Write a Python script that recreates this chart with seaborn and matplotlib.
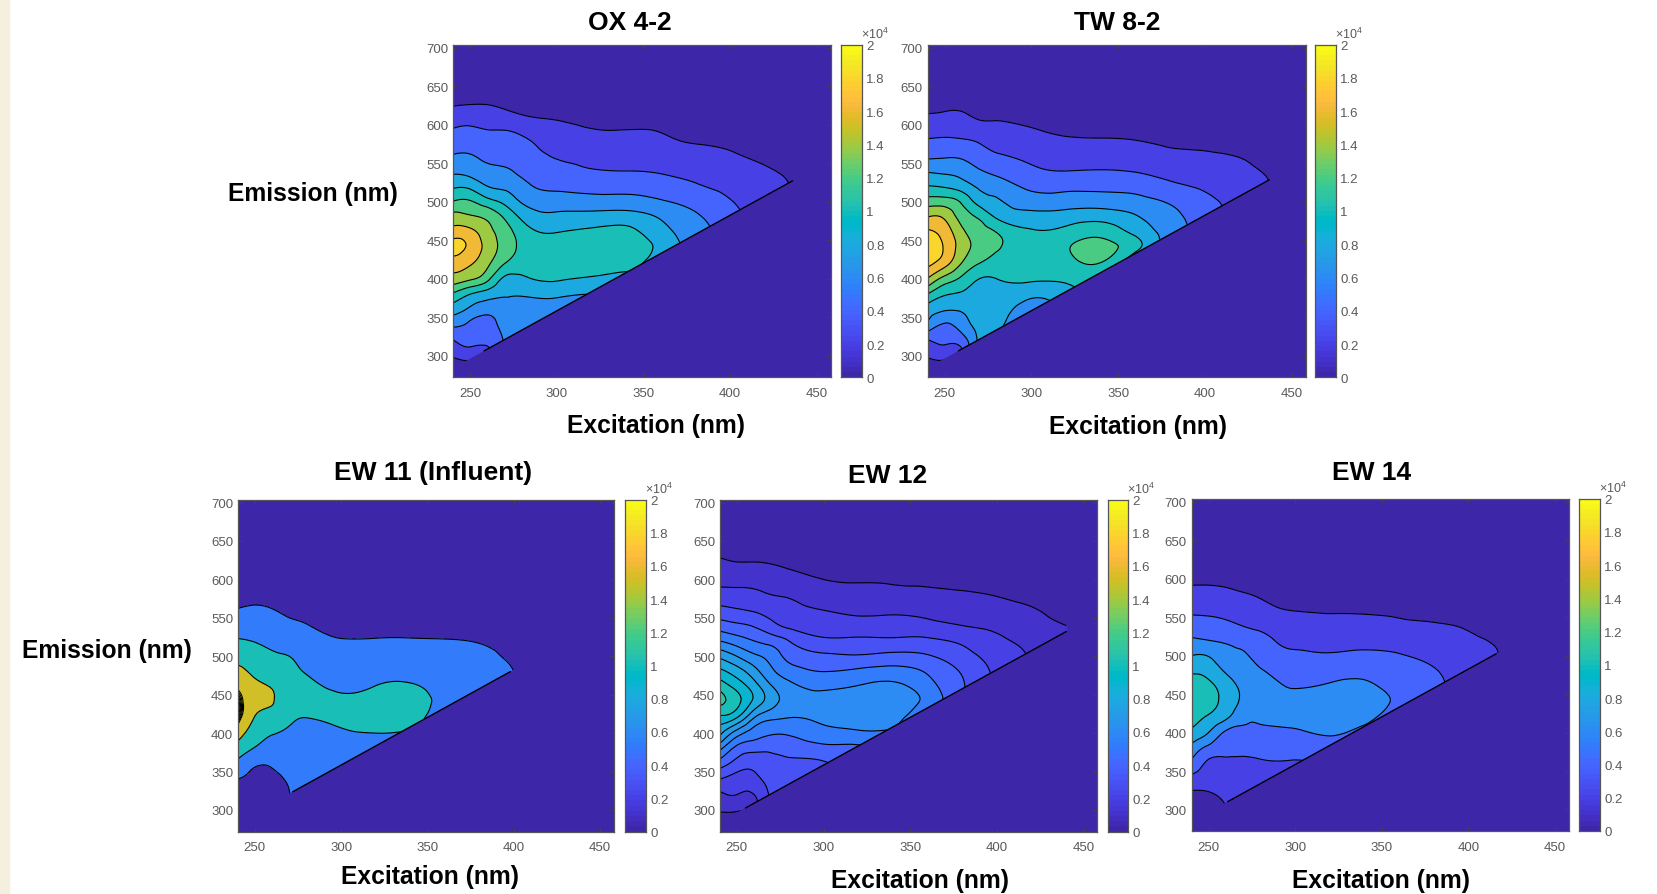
#!/usr/bin/env python
import numpy as np
import matplotlib
matplotlib.use("Agg")
import matplotlib.pyplot as plt
import matplotlib.tri as mtri
from matplotlib.colors import ListedColormap
from matplotlib.patches import Polygon, Rectangle
import seaborn as sns

# grid the maps were read on, intensity in units of 1e4
excitation = [240,250,260,270,280,300,320,340,360,380,400,420,440]
emission = [280,300,320,340,360,380,400,420,440,460,480,500,520,540,560,580,600,620,640]

# one list per excitation column, emission going up
ox_4_2 = [
	[.05,.22,.39,.64,.89,1.17,1.52,1.7,1.87,1.7,1.48,1.21,.97,.76,.61,.49,.37,.23,.08],
	[.05,.27,.46,.55,.76,1.0,1.43,1.62,1.75,1.67,1.43,1.22,.95,.73,.61,.5,.39,.25,.08],
	[.25,.3,.45,.5,.67,.9,1.25,1.44,1.52,1.47,1.36,1.08,.8,.65,.55,.47,.36,.24,.1],
	[.6,.6,.62,.68,.72,.82,.96,1.2,1.32,1.3,1.17,.95,.76,.63,.52,.46,.35,.2,.08],
	[.6,.65,.68,.7,.74,.82,.97,1.08,1.15,1.1,.96,.78,.66,.55,.49,.43,.3,.15,.05],
	[.6,.62,.65,.7,.74,.84,1.02,1.08,1.1,1.0,.85,.7,.56,.46,.38,.3,.23,.12,.04],
	[.6,.62,.65,.68,.72,.8,.98,1.06,1.1,1.04,.88,.68,.53,.41,.35,.26,.18,.08,.03],
	[.7,.7,.72,.74,.78,.84,.95,1.05,1.1,1.05,.9,.68,.53,.4,.34,.26,.17,.07,.02],
	[.75,.75,.78,.8,.82,.85,.88,.9,.95,.88,.78,.62,.5,.38,.3,.23,.16,.06,.02],
	[.7,.7,.7,.7,.7,.7,.7,.7,.7,.68,.63,.53,.42,.34,.26,.18,.1,.04,.01],
	[.5,.5,.5,.5,.5,.5,.5,.5,.5,.5,.47,.41,.35,.28,.22,.15,.07,.02,0],
	[.3,.3,.3,.3,.3,.3,.3,.3,.3,.3,.3,.3,.26,.22,.15,.06,.01,0,0],
	[.18,.18,.18,.18,.18,.18,.18,.18,.18,.18,.18,.18,.18,.16,.08,.02,0,0,0],
]
tw_8_2 = [
	[.05,.22,.38,.75,.92,1.2,1.6,1.85,1.92,1.84,1.6,1.3,1.01,.78,.55,.41,.3,.16,.04],
	[.1,.25,.45,.58,.82,1.02,1.33,1.68,1.78,1.72,1.57,1.3,.98,.76,.57,.42,.31,.18,.05],
	[.3,.35,.5,.7,.82,.97,1.16,1.39,1.5,1.45,1.32,1.17,.9,.72,.56,.41,.31,.18,.05],
	[.8,.82,.84,.85,.86,.9,1.0,1.2,1.33,1.3,1.17,.93,.77,.62,.48,.38,.25,.1,.03],
	[.85,.85,.85,.85,.87,.92,1.0,1.12,1.22,1.2,.98,.83,.7,.55,.42,.32,.23,.1,.02],
	[.55,.58,.6,.65,.72,.85,1.03,1.1,1.12,1.03,.88,.7,.56,.44,.35,.27,.18,.07,.01],
	[.75,.75,.78,.8,.84,.92,1.03,1.12,1.18,1.07,.9,.7,.55,.4,.3,.22,.13,.04,.01],
	[.9,.9,.9,.9,.95,1.0,1.02,1.19,1.28,1.14,.93,.71,.55,.41,.3,.21,.13,.04,.01],
	[.85,.85,.85,.85,.85,.85,.85,.85,1.05,.95,.82,.67,.53,.39,.29,.2,.12,.03,0],
	[.72,.72,.72,.72,.72,.72,.72,.72,.72,.72,.66,.58,.44,.34,.24,.17,.1,.03,0],
	[.5,.5,.5,.5,.5,.5,.5,.5,.5,.5,.5,.45,.37,.29,.22,.15,.07,.01,0],
	[.33,.33,.33,.33,.33,.33,.33,.33,.33,.33,.33,.33,.28,.24,.19,.1,.03,0,0],
	[.19,.19,.19,.19,.19,.19,.19,.19,.19,.19,.19,.19,.19,.17,.1,.03,0,0,0],
]
ew_11 = [
	[.05,.1,.2,.5,.88,1.3,1.75,2.2,2.3,1.95,1.65,1.3,1.03,.82,.53,.3,.15,.05,0],
	[.05,.1,.2,.38,.56,.97,1.25,1.48,1.62,1.6,1.42,1.25,.98,.8,.58,.35,.15,.04,0],
	[.05,.1,.2,.38,.55,.8,1.03,1.28,1.52,1.48,1.28,1.08,.88,.7,.52,.3,.12,.03,0],
	[.4,.45,.49,.55,.65,.78,.92,1.08,1.2,1.22,1.12,1.0,.8,.6,.4,.22,.08,.02,0],
	[.6,.6,.6,.62,.68,.75,.85,1.0,1.1,1.08,.97,.82,.66,.52,.3,.15,.05,.01,0],
	[.7,.7,.7,.7,.75,.85,.96,1.06,1.05,.95,.78,.62,.52,.35,.2,.08,.02,0,0],
	[.85,.85,.85,.85,.85,.85,1.0,1.08,1.08,1.01,.85,.68,.53,.35,.18,.06,.01,0,0],
	[.9,.9,.9,.9,.9,.9,.98,1.08,1.12,1.05,.85,.68,.53,.36,.18,.05,.01,0,0],
	[.85,.85,.85,.85,.85,.85,.85,.85,.9,.85,.75,.65,.52,.35,.18,.05,.01,0,0],
	[.7,.7,.7,.7,.7,.7,.7,.7,.7,.7,.65,.58,.48,.32,.14,.03,0,0,0],
	[.5,.5,.5,.5,.5,.5,.5,.5,.5,.5,.5,.43,.33,.15,.05,0,0,0,0],
	[.2,.2,.2,.2,.2,.2,.2,.2,.2,.2,.2,.2,.1,.04,0,0,0,0,0],
	[0,0,0,0,0,0,0,0,0,0,0,0,0,0,0,0,0,0,0],
]
ew_12 = [
	[.04,.11,.18,.3,.45,.63,.83,.97,1.12,1.07,.93,.78,.6,.45,.33,.24,.17,.13,.04],
	[.03,.11,.2,.26,.36,.47,.65,.9,1.03,.97,.85,.7,.55,.42,.31,.23,.17,.11,.03],
	[.1,.15,.2,.27,.33,.43,.55,.7,.87,.85,.74,.62,.5,.39,.29,.22,.17,.11,.03],
	[.3,.31,.32,.34,.37,.42,.51,.62,.74,.71,.62,.56,.46,.33,.26,.2,.16,.1,.02],
	[.32,.33,.34,.36,.38,.44,.51,.6,.66,.63,.55,.47,.4,.28,.23,.19,.14,.08,.02],
	[.34,.34,.35,.37,.39,.47,.56,.63,.65,.58,.5,.42,.32,.25,.2,.15,.1,.05,.01],
	[.45,.45,.45,.45,.45,.48,.58,.66,.68,.61,.52,.41,.32,.24,.18,.13,.09,.04,.01],
	[.5,.5,.5,.5,.5,.5,.58,.64,.69,.63,.54,.43,.32,.24,.18,.12,.09,.04,.01],
	[.5,.5,.5,.5,.5,.5,.5,.5,.56,.54,.49,.41,.32,.23,.17,.12,.08,.03,0],
	[.42,.42,.42,.42,.42,.42,.42,.42,.42,.41,.39,.34,.28,.2,.15,.11,.07,.02,0],
	[.28,.28,.28,.28,.28,.28,.28,.28,.28,.28,.28,.26,.22,.18,.14,.095,.05,.01,0],
	[.19,.19,.19,.19,.19,.19,.19,.19,.19,.19,.19,.19,.17,.14,.11,.06,.02,0,0],
	[.11,.11,.11,.11,.11,.11,.11,.11,.11,.11,.11,.11,.11,.1,.05,.01,0,0,0],
]
ew_14 = [
	[.05,.1,.17,.34,.56,.74,.96,1.07,1.12,1.09,.97,.8,.63,.48,.36,.26,.15,.05,.01],
	[.05,.1,.18,.3,.37,.55,.8,.98,1.07,1.05,.93,.79,.6,.47,.35,.26,.15,.05,.01],
	[.1,.18,.25,.3,.35,.47,.57,.84,.93,.9,.78,.68,.57,.44,.33,.24,.14,.04,.01],
	[.3,.3,.3,.32,.36,.46,.55,.66,.76,.76,.7,.63,.52,.39,.3,.21,.12,.03,.01],
	[.3,.3,.32,.35,.38,.47,.56,.63,.68,.68,.62,.52,.45,.35,.25,.18,.1,.02,0],
	[.35,.35,.36,.37,.39,.47,.58,.64,.66,.59,.53,.43,.37,.3,.19,.13,.07,.02,0],
	[.42,.42,.42,.42,.42,.5,.62,.66,.68,.62,.54,.42,.34,.26,.18,.12,.07,.02,0],
	[.5,.5,.5,.5,.5,.5,.57,.63,.68,.63,.55,.44,.34,.25,.18,.12,.07,.02,0],
	[.52,.52,.52,.52,.52,.52,.52,.52,.56,.53,.48,.41,.33,.23,.17,.11,.06,.02,0],
	[.42,.42,.42,.42,.42,.42,.42,.42,.42,.43,.41,.36,.29,.21,.16,.1,.05,.01,0],
	[.32,.32,.32,.32,.32,.32,.32,.32,.32,.32,.32,.28,.23,.18,.12,.06,.02,0,0],
	[.17,.17,.17,.17,.17,.17,.17,.17,.17,.17,.17,.18,.16,.09,.03,0,0,0,0],
	[0,0,0,0,0,0,0,0,0,0,0,0,0,0,0,0,0,0,0],
]

levels_02 = [0,.2,.4,.6,.8,1.0,1.2,1.4,1.6,1.8,2.0,9]
levels_01 = [0,.1,.2,.3,.4,.5,.6,.7,.8,.9,1.0,1.1,1.2,9]
levels_05 = [0,.5,1.0,1.5,2.0,2.05,2.1,2.15,2.2,2.25,9]

titles = ["OX 4-2","TW 8-2","EW 11 (Influent)","EW 12","EW 14"]
x_ticks = [250,300,350,400,450]
y_ticks = [300,350,400,450,500,550,600,650,700]
cbar_ticks = [0,.2,.4,.6,.8,1,1.2,1.4,1.6,1.8,2]
cbar_labels = ["0","0.2","0.4","0.6","0.8","1","1.2","1.4","1.6","1.8","2"]

# scatter edge, emission at excitation 240 and 460
scatter_ex = [240,460]
scatter_em = [284,557]
edge_from = [258,258,272,255,261]
edge_to = [436,437,398,440,416]

parula = ListedColormap([
	(.2422,.1504,.6603),(.2504,.1650,.7076),(.2578,.1818,.7511),(.2647,.1978,.7952),(.2706,.2147,.8364),
	(.2751,.2342,.8710),(.2783,.2559,.8991),(.2803,.2782,.9221),(.2813,.3006,.9414),(.2810,.3228,.9579),
	(.2795,.3447,.9717),(.2760,.3667,.9829),(.2699,.3892,.9906),(.2602,.4123,.9952),(.2440,.4358,.9988),
	(.2206,.4603,.9973),(.1963,.4847,.9892),(.1834,.5074,.9798),(.1786,.5289,.9682),(.1764,.5499,.9520),
	(.1687,.5703,.9359),(.1540,.5902,.9218),(.1460,.6091,.9079),(.1380,.6276,.8973),(.1248,.6459,.8883),
	(.1113,.6635,.8763),(.0952,.6798,.8598),(.0689,.6948,.8394),(.0297,.7082,.8163),(.0036,.7203,.7917),
	(.0067,.7312,.7660),(.0433,.7411,.7394),(.0964,.7500,.7120),(.1408,.7584,.6842),(.1717,.7670,.6554),
	(.1938,.7758,.6251),(.2161,.7843,.5923),(.2470,.7918,.5567),(.2906,.7973,.5188),(.3406,.8008,.4789),
	(.3909,.8029,.4354),(.4456,.8024,.3909),(.5044,.7993,.3480),(.5616,.7942,.3045),(.6174,.7876,.2612),
	(.6720,.7793,.2227),(.7242,.7698,.1910),(.7738,.7598,.1646),(.8203,.7498,.1535),(.8634,.7406,.1596),
	(.9035,.7330,.1774),(.9393,.7288,.2100),(.9728,.7298,.2394),(.9956,.7434,.2371),(.9970,.7659,.2199),
	(.9952,.7893,.2028),(.9892,.8136,.1885),(.9786,.8386,.1766),(.9676,.8639,.1643),(.9610,.8890,.1537),
	(.9597,.9135,.1423),(.9628,.9373,.1265),(.9691,.9606,.1064),(.9769,.9839,.0805)])

W,H = 1658,895
grey = "#5a5a5a"
sns.set_theme(style="white")
plt.rcParams["font.family"] = ["Liberation Sans","DejaVu Sans"]
plt.rcParams["mathtext.default"] = "regular"

fig = plt.figure(figsize=(W/100,H/100),dpi=100,facecolor="white")
fig.patches.append(Rectangle((0,0),9/W,1,transform=fig.transFigure,color="#f5efdf",zorder=-5))


def add_px(left,top,right,bottom):
	return fig.add_axes([left/W,1-bottom/H,(right-left)/W,(bottom-top)/H])


def label_px(x,y,txt,size=17.7):
	fig.text(x/W,1-(y+2.5)/H,txt,ha="center",va="center",fontsize=size,fontweight="bold",color="black")


def draw_panel(box,cbox,Z,levels,edge0,edge1):
	ax = add_px(*box)
	ax.set_facecolor(parula(0.0))
	Z = np.array(Z).T
	cols = [parula(min(l/2.0,1.0)) for l in levels[:-1]]
	ex_lim = [240.3,458]
	em_lim = [272,704]
	poly = Polygon([(scatter_ex[0],scatter_em[0]),(scatter_ex[1],scatter_em[1]),(scatter_ex[1],em_lim[1]),(scatter_ex[0],em_lim[1])],transform=ax.transData)
	# let matplotlib round the contours off between the read grid points
	X,Y = np.meshgrid(excitation,emission)
	grid_tri = mtri.Triangulation(X.ravel(),Y.ravel())
	fine_tri,fine_z = mtri.UniformTriRefiner(grid_tri).refine_field(Z.ravel(),subdiv=3)
	cf = ax.tricontourf(fine_tri,fine_z,levels=levels,colors=cols)
	cl = ax.tricontour(fine_tri,fine_z,levels=levels[1:-1],colors="black",linewidths=0.8)
	cf.set_clip_path(poly)
	cl.set_clip_path(poly)
	ax.plot([edge0,edge1],np.interp([edge0,edge1],scatter_ex,scatter_em),color="black",lw=1.0)
	ax.set_xlim(ex_lim)
	ax.set_ylim(em_lim)
	ax.set_xticks(x_ticks)
	ax.set_yticks(y_ticks)
	ax.tick_params(direction="in",length=3,width=0.7,color="#444444",labelcolor=grey,labelsize=9.5,top=True,right=True,bottom=True,left=True)
	ax.tick_params(axis="x",pad=7)
	ax.tick_params(axis="y",pad=3.5)
	for s in ax.spines.values():
		s.set_visible(True)
		s.set_color("#555555")
		s.set_linewidth(0.9)

	cax = add_px(*cbox)
	strip = np.linspace(2,0,256).reshape(-1,1)
	sns.heatmap(strip,ax=cax,cmap=parula,vmin=0,vmax=2,cbar=False,xticklabels=False,yticklabels=False)
	cax.set_yticks([(2-v)/2*256 for v in cbar_ticks])
	cax.set_yticklabels(cbar_labels,rotation=0)
	cax.yaxis.tick_right()
	cax.tick_params(axis="y",direction="in",length=2.5,width=0.7,color="#333333",labelcolor=grey,labelsize=9.5,pad=3,right=True,left=False)
	for s in cax.spines.values():
		s.set_visible(True)
		s.set_color("#555555")
		s.set_linewidth(0.9)
	fig.text((cbox[2]-1)/W,1-(cbox[1]-11)/H,r"$\times$10$^{4}$",fontsize=9,color=grey,ha="left",va="center")


boxes = [(453.5,45.7,830.7,378.3),(927.7,45.7,1305.7,378.3),(238,500.5,614,832.5),(720,500.5,1097.5,832.5),(1191.7,499.7,1569,832)]
cboxes = [(840.7,45.7,862,378.3),(1315.3,45.7,1336,378.3),(625,500.5,646,832.5),(1107.7,500.5,1128,832.5),(1579.3,499.7,1600,832)]
panels = [ox_4_2,tw_8_2,ew_11,ew_12,ew_14]
panel_levels = [levels_02,levels_02,levels_05,levels_01,levels_02]

for i in range(5):
	draw_panel(boxes[i],cboxes[i],panels[i],panel_levels[i],edge_from[i],edge_to[i])

title_pos = [(630,20),(1116.7,20),(433.5,470.5),(888,474),(1371.7,470.7)]
xlabel_pos = [(655.6,424),(1137.8,425),(430,874.5),(920,878.7),(1381,878.7)]
for i in range(5):
	label_px(title_pos[i][0],title_pos[i][1],titles[i],size=19)
	label_px(xlabel_pos[i][0],xlabel_pos[i][1],"Excitation (nm)")
label_px(313,191.4,"Emission (nm)")
label_px(106.8,649,"Emission (nm)")

fig.savefig("out.png",dpi=100)
